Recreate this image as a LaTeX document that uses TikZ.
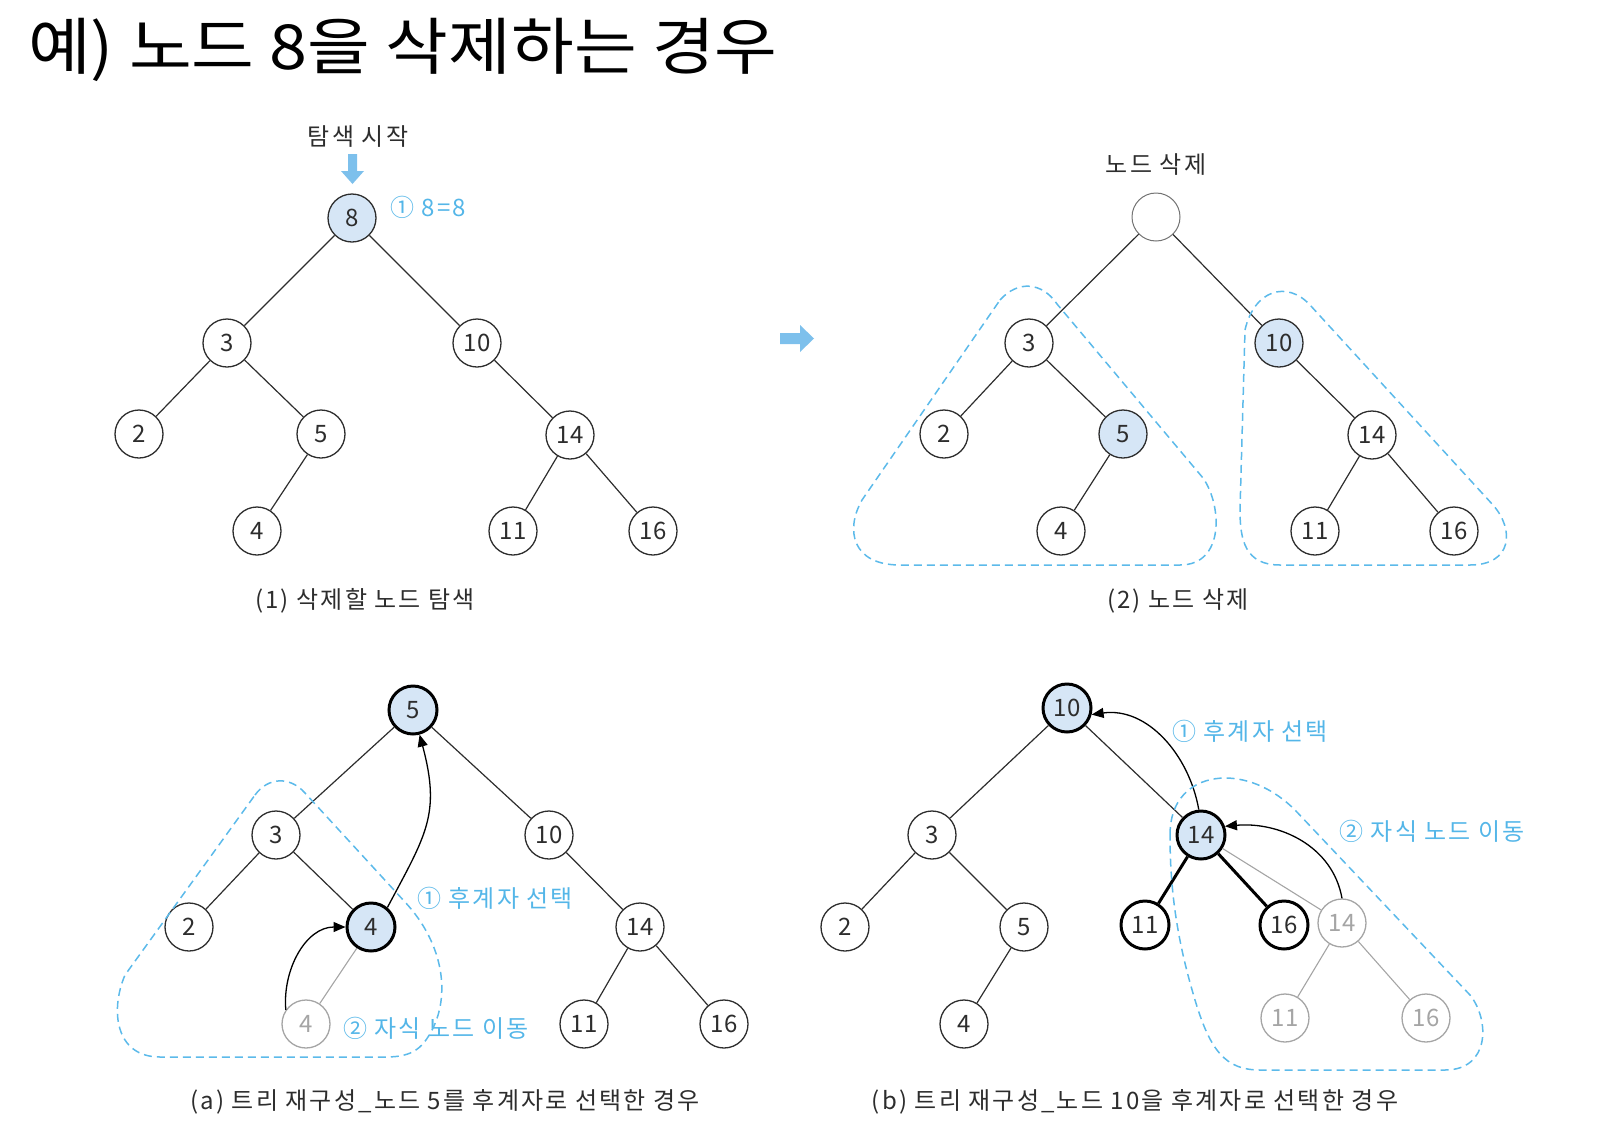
\documentclass[tikz,border=0pt]{standalone}
\usepackage{fontspec}
\setmainfont{Noto Sans CJK KR}
\newfontfamily\titlefont[FakeStretch=1.1]{Noto Sans CJK KR}
\newfontfamily\lblfont[LetterSpace=9]{Noto Sans CJK KR}
\usetikzlibrary{arrows.meta}
\definecolor{nfill}{RGB}{214,230,246}
\definecolor{bluetxt}{RGB}{84,182,232}
\definecolor{blockblue}{RGB}{125,192,236}
\definecolor{dashblue}{RGB}{92,186,234}
\definecolor{gry}{RGB}{165,165,165}
\definecolor{ink}{RGB}{45,45,45}
\begin{document}
\begin{tikzpicture}[x=1pt,y=-1pt,
  nd/.style={circle,draw=ink,line width=1.3pt,minimum size=48pt,inner sep=0pt,fill=white,text=ink,font=\fontsize{24}{24}\selectfont},
  sel/.style={fill=nfill},
  thk/.style={line width=3pt,draw=black},
  grn/.style={draw=gry,text=gry},
  edge/.style={line width=1.2pt,draw=ink},
  thkedge/.style={line width=3pt,draw=black},
  gedge/.style={line width=1.1pt,draw=gry},
  lbl/.style={text=ink,font=\lblfont\fontsize{24}{26}\selectfont,inner sep=0pt},
  blbl/.style={text=bluetxt,font=\lblfont\fontsize{24}{26}\selectfont,inner sep=0pt},
  captxt/.style={text=ink,font=\lblfont\fontsize{24}{26}\selectfont,inner sep=0pt},
  region/.style={draw=dashblue,line width=1.5pt,dash pattern=on 8pt off 5pt},
  curv/.style={line width=1.3pt,draw=black,-{Triangle[length=12pt,width=10pt]}},
  blockarrow/.style={fill=blockblue}
]
\useasboundingbox (0,0) rectangle (1617,1125);

% title
\node[anchor=west,inner sep=0pt,font=\titlefont\fontsize{62}{66}\selectfont] (title) at (28,50) {예) 노드 8을 삭제하는 경우};

% ---------- panel 1 ----------
\node[nd,sel] (a8) at (352,218) {8};
\node[nd] (a3) at (227,343) {3};
\node[nd] (a10) at (477,343) {10};
\node[nd] (a2) at (139,434) {2};
\node[nd] (a5) at (321,434) {5};
\node[nd] (a14) at (570,435) {14};
\node[nd] (a4) at (257,531) {4};
\node[nd] (a11) at (513,531) {11};
\node[nd] (a16) at (653,531) {16};
\draw[edge] (a8) -- (a3);
\draw[edge] (a8) -- (a10);
\draw[edge] (a3) -- (a2);
\draw[edge] (a3) -- (a5);
\draw[edge] (a5) -- (a4);
\draw[edge] (a10) -- (a14);
\draw[edge] (a14) -- (a11);
\draw[edge] (a14) -- (a16);
\node[lbl] (t1) at (358,137) {탐색 시작};
\node[blbl] (e1) at (428,207) {① 8=8};
\fill[blockarrow] (348,154) -- (357,154) -- (357,171) -- (364,171) -- (352.5,184) -- (341,171) -- (348,171) -- cycle;
\node[captxt] (cap1) at (365,601) {(1) 삭제할 노드 탐색};

% big right arrow
\fill[blockarrow] (780,333) -- (800,333) -- (800,325) -- (814,338.5) -- (800,352) -- (800,344) -- (780,344) -- cycle;

% ---------- panel 2 ----------
\node[nd,draw=black!55,line width=1pt] (b0) at (1156,217) {};
\node[nd] (b3) at (1029,343) {3};
\node[nd,sel] (b10) at (1279,343) {10};
\node[nd] (b2) at (944,434) {2};
\node[nd,sel] (b5) at (1123,434) {5};
\node[nd] (b14) at (1372,435) {14};
\node[nd] (b4) at (1061,531) {4};
\node[nd] (b11) at (1315,531) {11};
\node[nd] (b16) at (1454,531) {16};
\draw[edge] (b0) -- (b3);
\draw[edge] (b0) -- (b10);
\draw[edge] (b3) -- (b2);
\draw[edge] (b3) -- (b5);
\draw[edge] (b5) -- (b4);
\draw[edge] (b10) -- (b14);
\draw[edge] (b14) -- (b11);
\draw[edge] (b14) -- (b16);
\node[lbl] (t2) at (1156,165) {노드 삭제};
\node[captxt] (cap2) at (1178,601) {(2) 노드 삭제};
\draw[region] (1000,300) .. controls (1018,280) and (1042,282) .. (1057,304)
  -- (1203,478) .. controls (1222,505) and (1225,565) .. (1180,565)
  -- (900,565) .. controls (852,565) and (845,530) .. (862,500) -- cycle;
\draw[region] (1245,330) .. controls (1254,290) and (1287,280) .. (1310,305)
  -- (1493,505) .. controls (1515,530) and (1512,565) .. (1470,565)
  -- (1280,565) .. controls (1245,565) and (1240,540) .. (1240,510) -- cycle;

% ---------- panel (a) ----------
\node[nd,sel,thk] (c5) at (413,710) {5};
\node[nd] (c3) at (276,835) {3};
\node[nd] (c10) at (549,835) {10};
\node[nd] (c2) at (189,927) {2};
\node[nd,sel,thk] (c4) at (371,927) {4};
\node[nd] (c14) at (640,927) {14};
\node[nd,grn] (cg4) at (306,1024) {4};
\node[nd] (c11) at (584,1024) {11};
\node[nd] (c16) at (724,1024) {16};
\draw[edge] (c5) -- (c3);
\draw[edge] (c5) -- (c10);
\draw[edge] (c3) -- (c2);
\draw[edge] (c3) -- (c4);
\draw[gedge] (c4) -- (cg4);
\draw[edge] (c10) -- (c14);
\draw[edge] (c14) -- (c11);
\draw[edge] (c14) -- (c16);
\draw[curv] (c4.50) to[out=62,in=-75,looseness=1.2] (c5.-75);
\draw[curv] (cg4.145) to[out=95,in=180] (c4.west);
\node[blbl] (ea1) at (495,898) {① 후계자 선택};
\node[blbl] (ea2) at (436,1028) {② 자식 노드 이동};
\draw[region] (255,795) .. controls (268,777) and (290,776) .. (305,793)
  -- (405,902) .. controls (445,945) and (452,1000) .. (428,1037)
  .. controls (418,1053) and (405,1057) .. (385,1057)
  -- (160,1057) .. controls (115,1057) and (110,1010) .. (125,975) -- cycle;
\node[captxt] (cap3) at (445,1102) {(a) 트리 재구성\_노드 5를 후계자로 선택한 경우};

% ---------- panel (b) ----------
\node[nd,sel,thk] (d10) at (1067,708) {10};
\node[nd] (d3) at (932,835) {3};
\node[nd,sel,thk] (d14) at (1201,835) {14};
\node[nd] (d2) at (845,927) {2};
\node[nd] (d5) at (1024,927) {5};
\node[nd,thk] (d11) at (1145,925) {11};
\node[nd,thk] (d16) at (1284,925) {16};
\node[nd] (d4) at (964,1024) {4};
\node[nd,grn] (dg14) at (1342,923) {14};
\node[nd,grn] (dg11) at (1285,1018) {11};
\node[nd,grn] (dg16) at (1426,1018) {16};
\draw[edge] (d10) -- (d3);
\draw[edge] (d10) -- (d14);
\draw[edge] (d3) -- (d2);
\draw[edge] (d3) -- (d5);
\draw[edge] (d5) -- (d4);
\draw[thkedge] (d14) -- (d11);
\draw[thkedge] (d14) -- (d16);
\draw[gedge] (d14) -- (dg14);
\draw[gedge] (dg14) -- (dg11);
\draw[gedge] (dg14) -- (dg16);
\draw[curv] (d14.95) to[out=100,in=8] (d10.-15);
\draw[curv] (dg14.north) to[out=100,in=5] (d14.20);
\node[blbl] (eb1) at (1250,731) {① 후계자 선택};
\node[blbl] (eb2) at (1432,831) {② 자식 노드 이동};
\draw[region] (1170,835) .. controls (1170,792) and (1200,778) .. (1225,778)
  .. controls (1250,778) and (1275,790) .. (1295,810)
  -- (1470,995) .. controls (1490,1020) and (1490,1070) .. (1445,1070)
  -- (1260,1070) .. controls (1225,1070) and (1210,1050) .. (1195,1000)
  .. controls (1180,950) and (1170,900) .. cycle;
\node[captxt] (cap4) at (1135,1102) {(b) 트리 재구성\_노드 10을 후계자로 선택한 경우};
\end{tikzpicture}
\end{document}
